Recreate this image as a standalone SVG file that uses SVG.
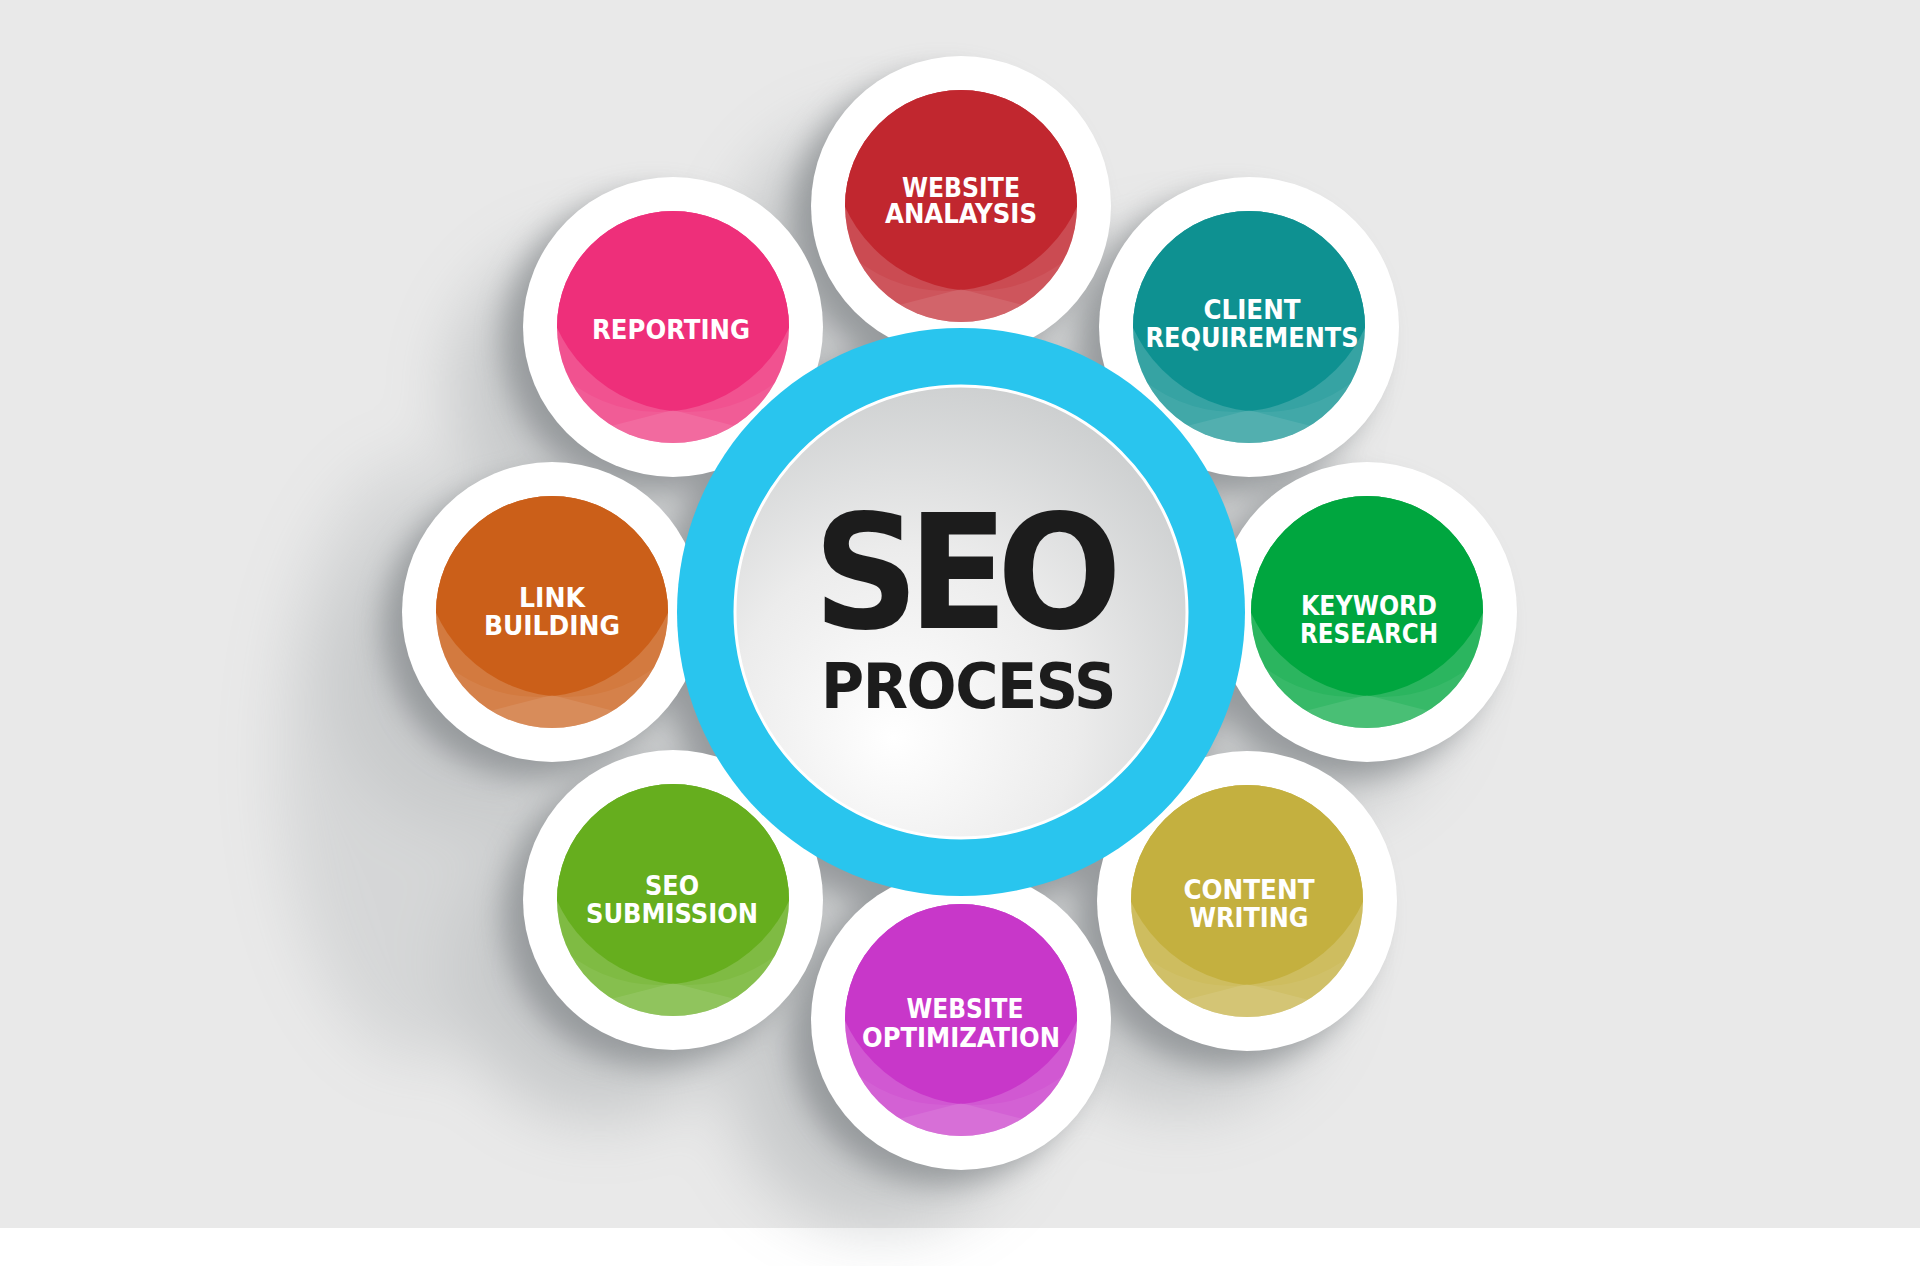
<svg xmlns="http://www.w3.org/2000/svg" xmlns:xlink="http://www.w3.org/1999/xlink" width="1920" height="1266" viewBox="0 0 1920 1266">
  <defs>
    <style>
      .halo { fill: #ffffff; }
      .lbl { font-family: "DejaVu Sans Condensed", "DejaVu Sans", sans-serif; font-weight: bold; font-size: 26px; fill: #ffffff; text-anchor: middle; }
      .big { font-family: "DejaVu Sans", sans-serif; font-weight: bold; fill: #1c1c1c; text-anchor: middle; }
    </style>
    <filter id="blur1" filterUnits="userSpaceOnUse" x="0" y="0" width="1920" height="1266">
      <feGaussianBlur stdDeviation="14"/>
    </filter>
    <filter id="blur2" filterUnits="userSpaceOnUse" x="0" y="0" width="1920" height="1266">
      <feGaussianBlur stdDeviation="32"/>
    </filter>
    <radialGradient id="core" cx="0.4" cy="0.7" r="0.85" fx="0.35" fy="0.78">
      <stop offset="0" stop-color="#ffffff"/>
      <stop offset="0.45" stop-color="#ececec"/>
      <stop offset="1" stop-color="#c3c6c7"/>
    </radialGradient>
    <clipPath id="cc"><circle cx="0" cy="0" r="116"/></clipPath>
    <clipPath id="cA2"><circle cx="-15" cy="-59" r="144"/></clipPath>
    <clipPath id="outA"><path clip-rule="evenodd" d="M-130,-130H130V130H-130Z M-129,-59a144,144 0 1,0 288,0a144,144 0 1,0 -288,0Z"/></clipPath>
    <g id="lens">
      <circle r="116" fill="#ffffff" fill-opacity="0.17"/>
      <circle cx="15" cy="-59" r="144" fill="currentColor" clip-path="url(#cA2)"/>
      <path fill="#ffffff" fill-opacity="0.06" fill-rule="evenodd" clip-path="url(#outA)" d="M-130,-130H130V130H-130Z M-159,-59a144,144 0 1,0 288,0a144,144 0 1,0 -288,0Z"/>
      <path fill="#ffffff" fill-opacity="0.09" d="M0,83 L-62,99 L-140,124 L-140,140 L140,140 L140,124 L62,99 Z"/>
    </g>
  </defs>

  <rect x="0" y="0" width="1920" height="1228" fill="#e9e9e9"/>
  <rect x="0" y="1228" width="1920" height="38" fill="#ffffff"/>

  <g id="shadows">
    <g filter="url(#blur2)" fill="#8c9294" opacity="0.35">
      <circle cx="880" cy="270" r="150"/>
      <circle cx="600" cy="390" r="150"/>
      <circle cx="480" cy="680" r="150"/>
      <circle cx="600" cy="970" r="150"/>
      <circle cx="880" cy="1080" r="150"/>
      <circle cx="1180" cy="960" r="150"/>
      <circle cx="1300" cy="670" r="150"/>
      <circle cx="1180" cy="385" r="150"/>
      <circle cx="900" cy="670" r="290"/>
      <ellipse cx="420" cy="760" rx="140" ry="300" opacity="0.6"/>
    </g>
    <g filter="url(#blur1)" fill="#6f7578" opacity="0.55">
      <circle cx="941" cy="222" r="150"/>
      <circle cx="653" cy="341" r="150"/>
      <circle cx="533" cy="628" r="150"/>
      <circle cx="653" cy="916" r="150"/>
      <circle cx="941" cy="1034" r="150"/>
      <circle cx="1227" cy="917" r="150"/>
      <circle cx="1347" cy="628" r="150"/>
      <circle cx="1229" cy="343" r="150"/>
      <circle cx="945" cy="628" r="286"/>
    </g>
  </g>

  <g id="connectors"></g>

  <g id="node-website-analysis" transform="translate(961,206)" style="color:#c1272f">
    <circle class="halo" r="150"/>
    <circle r="116" fill="#c1272f"/>
    <use href="#lens" clip-path="url(#cc)"/>
    <text class="lbl" x="0" y="-9" textLength="118" lengthAdjust="spacingAndGlyphs">WEBSITE</text>
    <text class="lbl" x="0" y="17" textLength="152" lengthAdjust="spacingAndGlyphs">ANALAYSIS</text>
  </g>

  <g id="node-client-requirements" transform="translate(1249,327)" style="color:#0e9191">
    <circle class="halo" r="150"/>
    <circle r="116" fill="#0e9191"/>
    <use href="#lens" clip-path="url(#cc)"/>
    <text class="lbl" x="3" y="-8" textLength="97" lengthAdjust="spacingAndGlyphs">CLIENT</text>
    <text class="lbl" x="3" y="20" textLength="213" lengthAdjust="spacingAndGlyphs">REQUIREMENTS</text>
  </g>

  <g id="node-keyword-research" transform="translate(1367,612)" style="color:#00a63f">
    <circle class="halo" r="150"/>
    <circle r="116" fill="#00a63f"/>
    <use href="#lens" clip-path="url(#cc)"/>
    <text class="lbl" x="2" y="3" textLength="136" lengthAdjust="spacingAndGlyphs">KEYWORD</text>
    <text class="lbl" x="2" y="31" textLength="138" lengthAdjust="spacingAndGlyphs">RESEARCH</text>
  </g>

  <g id="node-content-writing" transform="translate(1247,901)" style="color:#c4b03f">
    <circle class="halo" r="150"/>
    <circle r="116" fill="#c4b03f"/>
    <use href="#lens" clip-path="url(#cc)"/>
    <text class="lbl" x="2" y="-2" textLength="131" lengthAdjust="spacingAndGlyphs">CONTENT</text>
    <text class="lbl" x="2" y="26" textLength="119" lengthAdjust="spacingAndGlyphs">WRITING</text>
  </g>

  <g id="node-website-optimization" transform="translate(961,1020)" style="color:#c837c9">
    <circle class="halo" r="150"/>
    <circle r="116" fill="#c837c9"/>
    <use href="#lens" clip-path="url(#cc)"/>
    <text class="lbl" x="4" y="-2" textLength="117" lengthAdjust="spacingAndGlyphs">WEBSITE</text>
    <text class="lbl" x="0" y="27" textLength="198" lengthAdjust="spacingAndGlyphs">OPTIMIZATION</text>
  </g>

  <g id="node-seo-submission" transform="translate(673,900)" style="color:#66ae1e">
    <circle class="halo" r="150"/>
    <circle r="116" fill="#66ae1e"/>
    <use href="#lens" clip-path="url(#cc)"/>
    <text class="lbl" x="-1" y="-5" textLength="54" lengthAdjust="spacingAndGlyphs">SEO</text>
    <text class="lbl" x="-1" y="23" textLength="172" lengthAdjust="spacingAndGlyphs">SUBMISSION</text>
  </g>

  <g id="node-link-building" transform="translate(552,612)" style="color:#cb5f19">
    <circle class="halo" r="150"/>
    <circle r="116" fill="#cb5f19"/>
    <use href="#lens" clip-path="url(#cc)"/>
    <text class="lbl" x="0" y="-5" textLength="66" lengthAdjust="spacingAndGlyphs">LINK</text>
    <text class="lbl" x="0" y="23" textLength="136" lengthAdjust="spacingAndGlyphs">BUILDING</text>
  </g>

  <g id="node-reporting" transform="translate(673,327)" style="color:#ee2f7a">
    <circle class="halo" r="150"/>
    <circle r="116" fill="#ee2f7a"/>
    <use href="#lens" clip-path="url(#cc)"/>
    <text class="lbl" x="-2" y="12" textLength="158" lengthAdjust="spacingAndGlyphs">REPORTING</text>
  </g>

  <g id="node-seo-process">
    <circle cx="961" cy="612" r="284" fill="#29c5ee"/>
    <circle cx="961" cy="612" r="226" fill="url(#core)" stroke="#ffffff" stroke-width="3"/>
    <text class="big" transform="translate(962,628) scale(0.93,1)" x="0" y="0" font-size="158" letter-spacing="-12">SEO</text>
    <text class="big" transform="translate(968,708) scale(0.95,1)" x="0" y="0" font-size="62" letter-spacing="-1.5">PROCESS</text>
  </g>
</svg>
